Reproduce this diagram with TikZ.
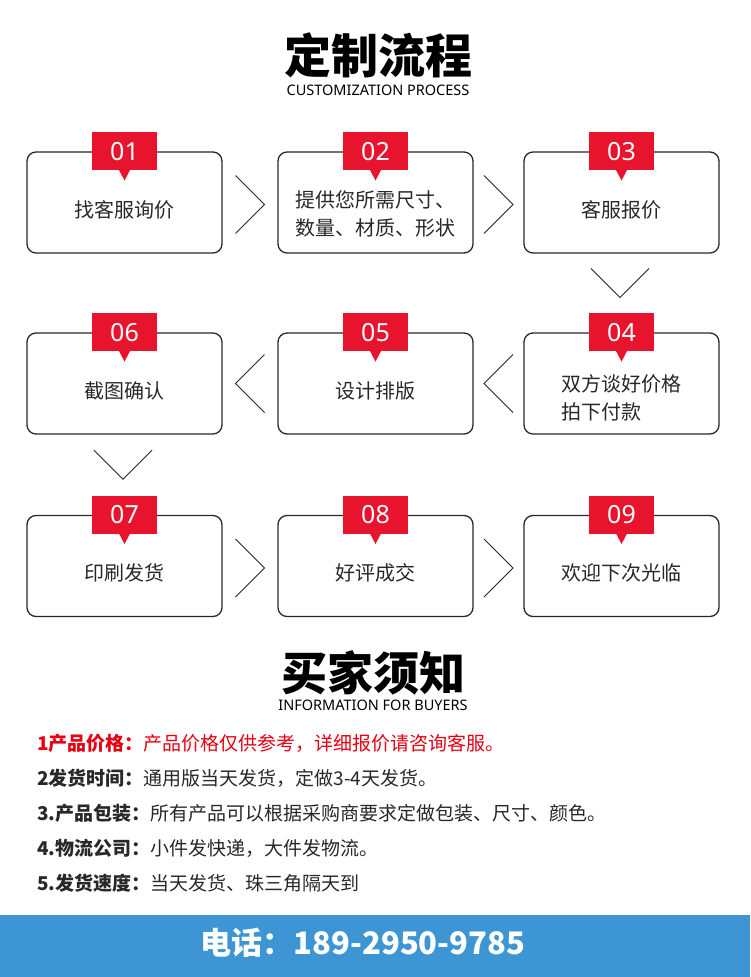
\documentclass[tikz,border=0pt]{standalone}
\usepackage{fontspec}
\setmainfont{Noto Sans CJK SC}
\newfontfamily\latin{Noto Sans}
\usetikzlibrary{calc}
\definecolor{tabred}{RGB}{232,20,45}
\definecolor{notered}{RGB}{230,0,18}
\definecolor{barblue}{RGB}{61,150,211}
\definecolor{ink}{RGB}{40,40,40}
\begin{document}
\begin{tikzpicture}[x=1pt,y=-1pt,
  box/.style={draw=ink, line width=1.3pt, rounded corners=9pt, minimum width=195pt, minimum height=101pt, inner sep=0pt},
  tab/.style={fill=tabred, minimum width=65pt, minimum height=38pt, inner sep=0pt, text=white, font=\latin\fontsize{25}{25}\selectfont},
  chev/.style={draw=ink, line width=0.9pt},
  boxtext/.style={font=\fontsize{20}{28}\selectfont, align=left, text=ink, inner sep=0pt},
  note/.style={anchor=west, font=\fontsize{19}{19}\selectfont, inner sep=0pt, text=ink}
]
\fill[white] (0,0) rectangle (750,977);
\useasboundingbox (0,0) rectangle (750,977);

% titles
\node[font=\bfseries\fontsize{47}{47}\selectfont, text=black, inner sep=0pt] (title1) at (378,55) {定制流程};
\node[font=\latin\fontsize{14.5}{14.5}\selectfont, text=black, inner sep=0pt] (sub1) at (378,90.5) {CUSTOMIZATION PROCESS};

% boxes
\foreach \n/\x/\y in {1/124.5/202.5, 2/375.5/202.5, 3/621.5/202.5,
                      6/124.5/383.5, 5/375.5/383.5, 4/621.5/383.5,
                      7/124.5/566, 8/375.5/566, 9/621.5/566}{
  \node[box] (b\n) at (\x,\y) {};
  \node[tab] (t\n) at (b\n.north) {0\n};
  \fill[tabred] ($(t\n.south)+(-5.5,-0.5)$) -- ($(t\n.south)+(5.5,-0.5)$) -- ($(t\n.south)+(0,10)$) -- cycle;
}

% box texts
\node[boxtext] (x1) at ($(b1.center)+(0,7)$) {找客服询价};
\node[boxtext] (x2) at ($(b2.center)+(0,11.5)$) {提供您所需尺寸、\\数量、材质、形状};
\node[boxtext] (x3) at ($(b3.center)+(0,7)$) {客服报价};
\node[boxtext] (x4) at ($(b4.center)+(0,14.5)$) {双方谈好价格\\拍下付款};
\node[boxtext] (x5) at ($(b5.center)+(0,7)$) {设计排版};
\node[boxtext] (x6) at ($(b6.center)+(0,7)$) {截图确认};
\node[boxtext] (x7) at ($(b7.center)+(0,7)$) {印刷发货};
\node[boxtext] (x8) at ($(b8.center)+(0,7)$) {好评成交};
\node[boxtext] (x9) at ($(b9.center)+(0,7)$) {欢迎下次光临};

% chevrons right
\foreach \a/\b in {1/2, 2/3, 7/8, 8/9}{
  \coordinate (m\a\b) at ($(b\a.east)!0.5!(b\b.west)+(0,2)$);
  \draw[chev] ($(m\a\b)+(-14.5,-29)$) -- ($(m\a\b)+(14.5,0)$) -- ($(m\a\b)+(-14.5,29)$);
}
% chevrons left
\foreach \a/\b in {4/5, 5/6}{
  \coordinate (m\a\b) at ($(b\a.west)!0.5!(b\b.east)+(0,0)$);
  \draw[chev] ($(m\a\b)+(14.5,-29)$) -- ($(m\a\b)+(-14.5,0)$) -- ($(m\a\b)+(14.5,29)$);
}
% chevrons down
\foreach \a/\b in {3/4, 6/7}{
  \coordinate (m\a\b) at ($(b\a.south)!0.5!(t\b.north)+(-1.5,-0.5)$);
  \draw[chev] ($(m\a\b)+(-29,-14.5)$) -- ($(m\a\b)+(0,14.5)$) -- ($(m\a\b)+(29,-14.5)$);
}

% buyer info
\node[font=\bfseries\fontsize{46}{46}\selectfont, text=black, inner sep=0pt] (title2) at (373,673) {买家须知};
\node[font=\latin\fontsize{14.5}{14.5}\selectfont, text=black, inner sep=0pt] (sub2) at (373,705.5) {INFORMATION FOR BUYERS};

\node[note, text=notered] (n1) at (37,743) {\textbf{1产品价格：}产品价格仅供参考，详细报价请咨询客服。};
\node[note] (n2) at (37,778) {\textbf{2发货时间：}通用版当天发货，定做3-4天发货。};
\node[note] (n3) at (37,813) {\textbf{3.产品包装：}所有产品可以根据采购商要求定做包装、尺寸、颜色。};
\node[note] (n4) at (37,848) {\textbf{4.物流公司：}小件发快递，大件发物流。};
\node[note] (n5) at (37,883) {\textbf{5.发货速度：}当天发货、珠三角隔天到};

% phone bar
\fill[barblue] (0,915) rectangle (750,977);
\node[font=\bfseries\fontsize{31}{31}\selectfont, text=white, inner sep=0pt] (phone) at (363,943) {电话：189-2950-9785};
\end{tikzpicture}
\end{document}
